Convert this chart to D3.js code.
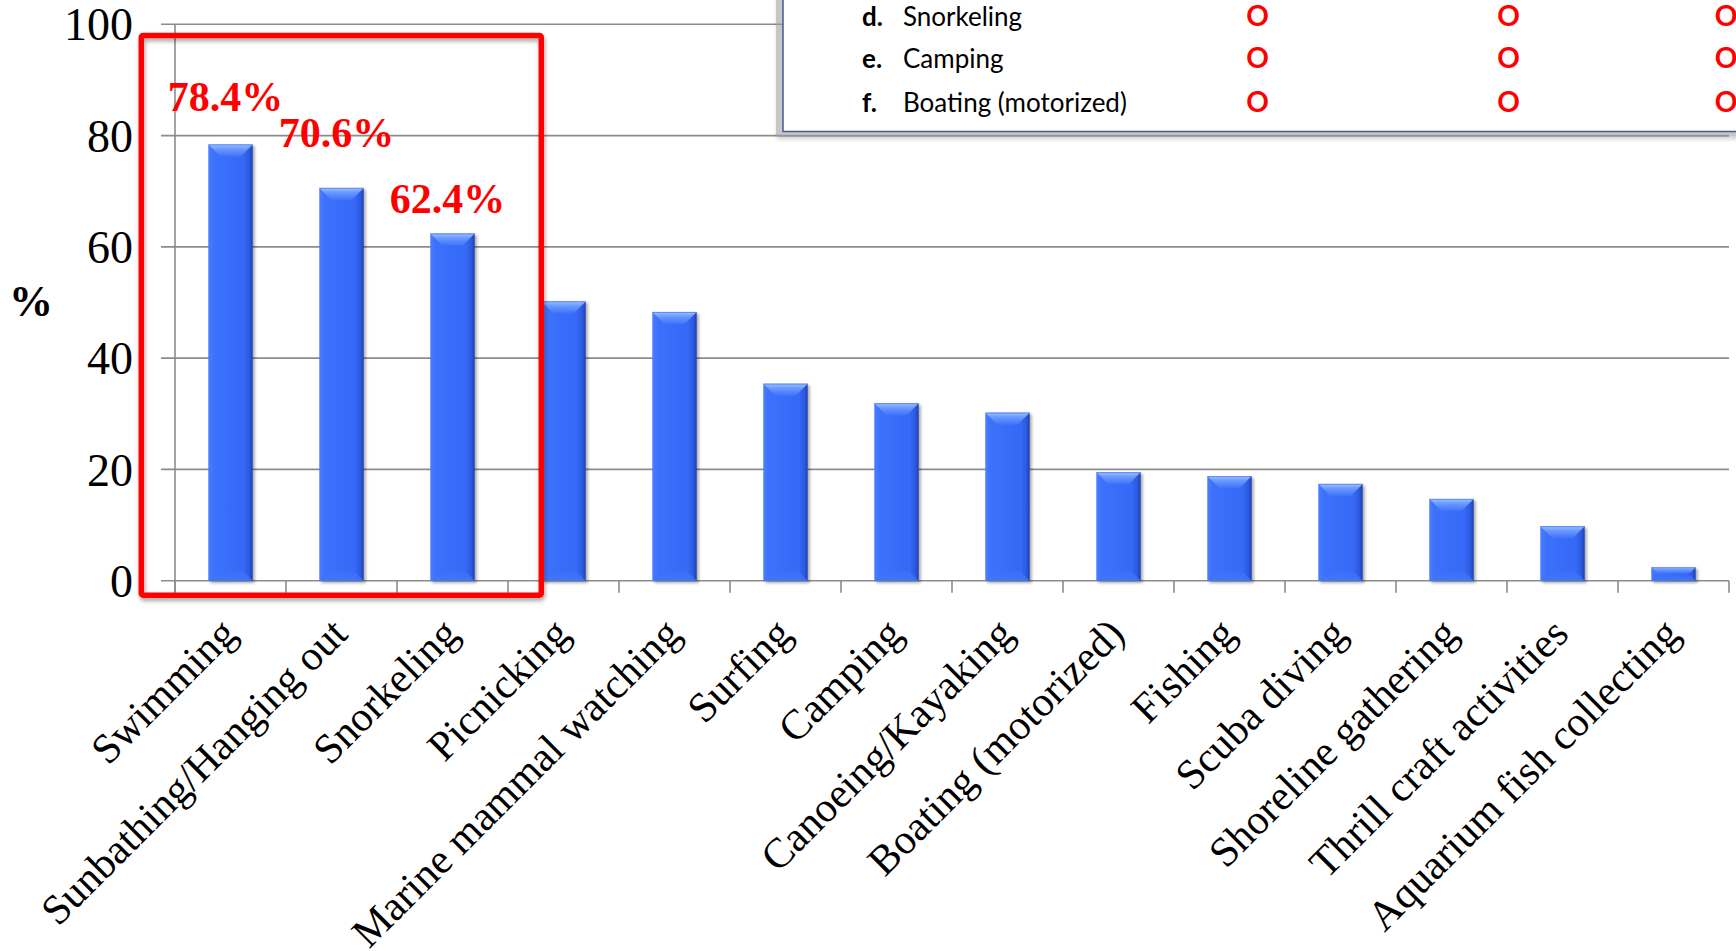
<!DOCTYPE html>
<html><head><meta charset="utf-8">
<script src="https://cdn.jsdelivr.net/npm/d3@7"></script>
<style>
html,body{margin:0;padding:0;background:#fff;}
svg{display:block;}
</style></head>
<body>
<svg id="chart" width="1736" height="951"></svg>
<script>
// ---- data ----
const categories = ["Swimming","Sunbathing/Hanging out","Snorkeling","Picnicking","Marine mammal watching","Surfing","Camping","Canoeing/Kayaking","Boating (motorized)","Fishing","Scuba diving","Shoreline gathering","Thrill craft activities","Aquarium fish collecting"];
const values = [78.4,70.6,62.4,50.2,48.3,35.4,31.9,30.2,19.5,18.8,17.4,14.7,9.8,2.4];
const yTicks = [0,20,40,60,80,100];
const highlightLabels = ["78.4%","70.6%","62.4%"];
const legendLetters = ["d.","e.","f."];
const legendItems = ["Snorkeling","Camping","Boating (motorized)"];
const legendMarks = [["O","O","O"],["O","O","O"],["O","O","O"]];
const yLabel = "%";

// ---- layout ----
const svg = d3.select("#chart");
const x = d3.scaleBand().domain(categories).range([175,1729]).paddingInner(0.6).paddingOuter(0.3);
const y = d3.scaleLinear().domain([0,100]).range([580.7,24.3]);
const step = x.step();
const x0 = x.range()[0], x1 = x.range()[1];

const defs = svg.append("defs");
const gBody = defs.append("linearGradient").attr("id","body").attr("x1","0").attr("x2","1").attr("y1","0").attr("y2","0");
[[0,"#4a7eff"],[0.12,"#3c71fc"],[0.8,"#3569f6"],[0.93,"#2c58dd"],[1,"#1f3fa8"]].forEach(s=>gBody.append("stop").attr("offset",s[0]).attr("stop-color",s[1]));
const gTop = defs.append("linearGradient").attr("id","topb").attr("x1","0").attr("x2","0").attr("y1","0").attr("y2","1");
[[0,"#a3c2ff"],[0.35,"#6d9bff"],[1,"#3e73fc"]].forEach(s=>gTop.append("stop").attr("offset",s[0]).attr("stop-color",s[1]));
const gBot = defs.append("linearGradient").attr("id","botb").attr("x1","0").attr("x2","0").attr("y1","0").attr("y2","1");
[[0,"#3a6ef9"],[1,"#4478f8"]].forEach(s=>gBot.append("stop").attr("offset",s[0]).attr("stop-color",s[1]));
const sh = defs.append("filter").attr("id","shadow").attr("x","-20%").attr("y","-20%").attr("width","150%").attr("height","150%");
sh.append("feDropShadow").attr("dx",2).attr("dy",2).attr("stdDeviation",1.6).attr("flood-color","#000").attr("flood-opacity",0.35);
const sh2 = defs.append("filter").attr("id","shadow2").attr("x","-10%").attr("y","-10%").attr("width","120%").attr("height","120%");
sh2.append("feDropShadow").attr("dx",1).attr("dy",3).attr("stdDeviation",2).attr("flood-color","#000").attr("flood-opacity",0.35);

// gridlines
svg.append("g").selectAll("line").data(yTicks).join("line")
  .attr("x1",161).attr("x2",x1).attr("y1",d=>y(d)).attr("y2",d=>y(d))
  .attr("stroke","#8c8c8c").attr("stroke-width",1.6);
// vertical axis line
svg.append("line").attr("x1",x0).attr("x2",x0).attr("y1",y(100)).attr("y2",y(0)+12)
  .attr("stroke","#8c8c8c").attr("stroke-width",1.6);
// category boundary ticks
const bounds = categories.map(c=>x(c)-x.paddingOuter()*step).concat([x1]);
svg.append("g").selectAll("line").data(bounds).join("line")
  .attr("x1",d=>d).attr("x2",d=>d).attr("y1",y(0)).attr("y2",y(0)+12)
  .attr("stroke","#8c8c8c").attr("stroke-width",1.6);

// y tick labels via axis
const yAxis = svg.append("g").attr("transform","translate(133,0)")
  .call(d3.axisLeft(y).tickValues(yTicks).tickSize(0).tickPadding(0));
yAxis.select(".domain").remove();
yAxis.selectAll("text").attr("font-family","'Liberation Serif','Times New Roman',serif")
  .attr("font-size",46).attr("fill","#000").attr("dy","0.34em").attr("x",0);

// y label
svg.append("text").attr("x",31).attr("y",301).attr("text-anchor","middle").attr("dy","0.34em")
  .attr("font-family","'Liberation Serif',serif").attr("font-weight","bold").attr("font-size",44).text(yLabel);

// bars
const bars = svg.append("g").selectAll("g").data(categories).join("g").attr("filter","url(#shadow)");
bars.each(function(c,i){
  const g = d3.select(this);
  const bx = x(c), bw = x.bandwidth(), by = y(values[i]), bh = y(0)-y(values[i]);
  const b = Math.min(12, bh/2.2);
  g.append("rect").attr("x",bx).attr("y",by).attr("width",bw).attr("height",bh).attr("fill","url(#body)");
  g.append("polygon").attr("points",[[bx,by],[bx+bw,by],[bx+bw-b,by+b],[bx+b,by+b]].map(p=>p.join(",")).join(" ")).attr("fill","url(#topb)");
  g.append("polygon").attr("points",[[bx,by+bh],[bx+bw,by+bh],[bx+bw-b*0.8,by+bh-b*0.8],[bx+b*0.8,by+bh-b*0.8]].map(p=>p.join(",")).join(" ")).attr("fill","url(#botb)").attr("opacity",0.8);
  g.append("line").attr("x1",bx).attr("x2",bx+bw).attr("y1",by+0.5).attr("y2",by+0.5).attr("stroke","#5a8cff").attr("stroke-width",1);
});

// x labels
svg.append("g").selectAll("text").data(categories).join("text")
  .attr("transform",c=>`translate(${x(c)+x.bandwidth()/2+8},636) rotate(-45)`)
  .attr("text-anchor","end")
  .attr("font-family","'Liberation Serif','Times New Roman',serif").attr("font-size",42).attr("fill","#000")
  .text(c=>c);

// highlight box
svg.append("rect").attr("x",x(categories[0])-67).attr("y",y(98)).attr("width",x(categories[3])-(x(categories[0])-67)).attr("height",y(0)+14.5-y(98))
  .attr("rx",2).attr("fill","none").attr("stroke","#ff0000").attr("stroke-width",5.5).attr("filter","url(#shadow2)");

// highlight labels
const labelOffsets = [33,41,21];
svg.append("g").selectAll("text").data(highlightLabels).join("text")
  .attr("x",(d,i)=>x(categories[i])+x.bandwidth()/2-5)
  .attr("y",(d,i)=>y(values[i])-labelOffsets[i])
  .attr("text-anchor","middle").attr("font-family","'Liberation Serif','Times New Roman',serif")
  .attr("font-weight","bold").attr("font-size",42).attr("fill","#ff0000").text(d=>d);

// legend / table box (top right)
const lg = svg.append("g");
lg.append("rect").attr("x",776).attr("y",-10).attr("width",980).attr("height",146).attr("fill","#9a9a9a").attr("opacity",0.55).attr("filter","url(#shadow2)");
lg.append("rect").attr("x",783).attr("y",-10).attr("width",970).attr("height",141.5).attr("fill","#fff").attr("stroke","#3f5f8f").attr("stroke-width",1.5);
const rowY = [25.5,68.3,111.7];
const colX = [1257.5,1508.5,1726];
lg.selectAll("text.letter").data(legendLetters).join("text").attr("class","letter")
  .attr("x",862).attr("y",(d,i)=>rowY[i]).attr("font-family","Lato,'Open Sans',sans-serif").attr("font-weight","bold").attr("font-size",26).attr("fill","#000").text(d=>d);
lg.selectAll("text.item").data(legendItems).join("text").attr("class","item")
  .attr("x",903).attr("y",(d,i)=>rowY[i]).attr("font-family","Lato,'Open Sans',sans-serif").attr("font-size",26).attr("fill","#000").text(d=>d);
legendMarks.forEach((row,ri)=>{
  lg.selectAll(null).data(row).join("text")
    .attr("x",(d,ci)=>colX[ci]).attr("y",rowY[ri]).attr("text-anchor","middle")
    .attr("font-family","Lato,'Open Sans',sans-serif").attr("font-weight","bold").attr("font-size",28).attr("fill","#ff0000").text(d=>d);
});
</script>
</body></html>
